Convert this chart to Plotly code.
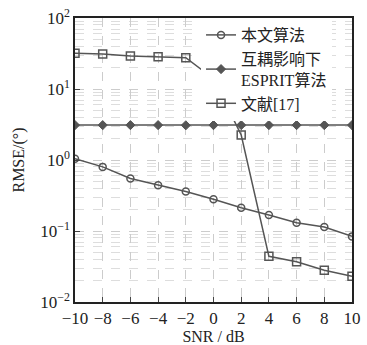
import plotly.graph_objects as go

snr = [-10, -8, -6, -4, -2, 0, 2, 4, 6, 8, 10]
proposed = [1.04, 0.80, 0.55, 0.44, 0.36, 0.28, 0.213, 0.168, 0.131, 0.114, 0.084]
esprit = [3.1, 3.1, 3.1, 3.1, 3.08, 3.1, 3.1, 3.1, 3.1, 3.1, 3.1]
ref17 = [31.8, 31.1, 29.2, 28.5, 27.6, 14.0, 2.25, 0.044, 0.037, 0.028, 0.023]

names = ["本文算法", "互耦影响下<br>ESPRIT算法", "文献[17]"]
ytickvals = [0.01, 0.1, 1, 10, 100]
yticktext = ["10<sup>−2</sup>", "10<sup>−1</sup>", "10<sup>0</sup>", "10<sup>1</sup>", "10<sup>2</sup>"]
xtickvals = [-10, -8, -6, -4, -2, 0, 2, 4, 6, 8, 10]

lc = "#555555"
fig = go.Figure()
fig.add_trace(go.Scatter(x=snr, y=proposed, name=names[0], mode="lines+markers",
                         line=dict(color=lc, width=1.5),
                         marker=dict(symbol="circle-open", size=7, color=lc, line=dict(width=1.5))))
fig.add_trace(go.Scatter(x=snr, y=esprit, name=names[1], mode="lines+markers",
                         line=dict(color=lc, width=1.5),
                         marker=dict(symbol="diamond", size=7, color=lc, line=dict(width=1, color=lc))))
fig.add_trace(go.Scatter(x=snr, y=ref17, name=names[2], mode="lines+markers",
                         line=dict(color=lc, width=1.5),
                         marker=dict(symbol="square-open", size=8, color=lc, line=dict(width=1.5))))

font_serif = "Liberation Serif, Noto Sans CJK SC, serif"
fig.update_layout(
    width=367, height=345,
    margin=dict(l=75, r=15, t=18, b=43),
    paper_bgcolor="white", plot_bgcolor="white",
    font=dict(family=font_serif, size=17, color="#222"),
    showlegend=True,
    legend=dict(x=0.455, y=1, xanchor="left", yanchor="top", bgcolor="white",
                borderwidth=0, font=dict(size=16, family=font_serif, color="#222"),
                tracegroupgap=0, itemwidth=30),
    xaxis=dict(range=[-10, 10], tickvals=xtickvals, ticks="inside", ticklen=5,
               showline=True, mirror=True, linecolor="#222", linewidth=1.5,
               showgrid=True, gridcolor="#cccccc", griddash="dash", gridwidth=1,
               zeroline=False, automargin=False,
               title=dict(text="SNR / dB", font=dict(size=16), standoff=1)),
    yaxis=dict(type="log", range=[-2, 2], tickvals=ytickvals, ticktext=yticktext,
               ticks="inside", ticklen=5,
               showline=True, mirror=True, linecolor="#222", linewidth=1.5,
               showgrid=True, gridcolor="#cccccc", griddash="dash", gridwidth=1,
               minor=dict(showgrid=True, gridcolor="#dddddd", griddash="dash", gridwidth=1,
                          tickvals=[m * 10**e for e in range(-2, 2) for m in range(2, 10)]),
               zeroline=False, automargin=False,
               title=dict(text="RMSE/(°)", font=dict(size=16), standoff=12)),
)
fig.write_html("out.html", config={"displayModeBar": False},
               post_script="document.body.style.margin='0';document.documentElement.style.overflow='hidden';")
